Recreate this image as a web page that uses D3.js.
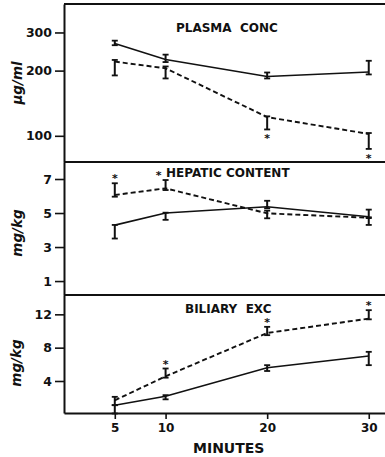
<!DOCTYPE html>
<html>
<head>
<meta charset="utf-8">
<script src="https://cdn.jsdelivr.net/npm/d3@7"></script>
<style>
  html, body { margin: 0; padding: 0; background: #fff; }
  svg { display: block; }
  text { fill: #111; font-family: "DejaVu Sans", sans-serif; }
</style>
</head>
<body>
<svg id="chart" width="385" height="457"></svg>
<script>
// time points (minutes)
const minutes = [5, 10, 20, 30];

// plasma conc, ug/ml  (solid = control, dashed = treated)
const plasmaSolid = [267, 225, 188, 197];
const plasmaSolidLo = [262, 219, 184, 192];
const plasmaSolidHi = [275, 237, 196, 222];
const plasmaDashed = [220, 205, 122, 102];
const plasmaDashedLo = [190, 184, 107, 87];
const plasmaDashedHi = [224, 209, 123, 103];
const plasmaStar = [0, 0, 1, 1];

// hepatic content, mg/kg
const hepSolid = [4.29, 5.0, 5.37, 4.78];
const hepSolidLo = [3.5, 4.6, 5.28, 4.3];
const hepSolidHi = [4.3, 5.02, 5.72, 5.2];
const hepDashed = [6.06, 6.45, 4.98, 4.72];
const hepDashedLo = [5.96, 6.35, 4.69, 4.7];
const hepDashedHi = [6.75, 6.94, 5.14, 4.75];
const hepStar = [1, 1, 0, 0];

// biliary excretion, mg/kg
const bilSolid = [1.08, 2.16, 5.6, 7.0];
const bilSolidLo = [0.1, 1.8, 5.2, 5.9];
const bilSolidHi = [1.1, 2.3, 5.9, 7.5];
const bilDashed = [1.68, 4.56, 9.76, 11.49];
const bilDashedLo = [1.1, 4.4, 9.5, 11.4];
const bilDashedHi = [2.1, 5.5, 10.5, 12.5];
const bilStar = [0, 1, 1, 1];

const plasmaTicks = [100, 200, 300];
const hepTicks = [1, 3, 5, 7];
const bilTicks = [4, 8, 12];

const svg = d3.select("#chart");
const ink = "#111";

const x = d3.scaleLinear().domain([0, 31.6]).range([64, 385]);

const panels = [
  {
    title: "PLASMA\u00a0\u00a0CONC", tx: 176, ty: 32,
    unit: "\u03bcg/ml", ux: 17, uy: 83,
    y: d3.scaleLog().domain([75.7, 406]).range([162, 4]),
    ticks: plasmaTicks,
    series: [
      { v: plasmaSolid, lo: plasmaSolidLo, hi: plasmaSolidHi, dash: null },
      { v: plasmaDashed, lo: plasmaDashedLo, hi: plasmaDashedHi, dash: "5,3", star: plasmaStar, below: true }
    ]
  },
  {
    title: "HEPATIC CONTENT", tx: 166, ty: 177,
    unit: "mg/kg", ux: 17, uy: 233,
    y: d3.scaleLinear().domain([0.18, 8.0]).range([295, 162]),
    ticks: hepTicks,
    series: [
      { v: hepSolid, lo: hepSolidLo, hi: hepSolidHi, dash: null },
      // star at 10 min sits left of its bar, next to the title
      { v: hepDashed, lo: hepDashedLo, hi: hepDashedHi, dash: "5,3", star: hepStar, starDx: [0, -7, 0, 0] }
    ]
  },
  {
    title: "BILIARY\u00a0\u00a0EXC", tx: 185, ty: 313,
    unit: "mg/kg", ux: 16, uy: 363,
    y: d3.scaleLinear().domain([0.16, 14.32]).range([413, 295]),
    ticks: bilTicks,
    series: [
      { v: bilSolid, lo: bilSolidLo, hi: bilSolidHi, dash: null },
      { v: bilDashed, lo: bilDashedLo, hi: bilDashedHi, dash: "5,3", star: bilStar }
    ]
  }
];

// frame lines (top and separators)
[4, 162, 295].forEach(yy => {
  svg.append("line")
    .attr("x1", 64).attr("x2", 385)
    .attr("y1", yy).attr("y2", yy)
    .attr("stroke", ink).attr("stroke-width", 2);
});

panels.forEach(p => {
  const yAxis = d3.axisLeft(p.y)
    .tickValues(p.ticks)
    .tickFormat(d3.format("d"))
    .tickSize(9)
    .tickSizeOuter(0)
    .tickPadding(3);

  const g = svg.append("g")
    .attr("transform", "translate(64,0)")
    .call(yAxis);
  g.select(".domain").attr("stroke", ink).attr("stroke-width", 2);
  g.selectAll(".tick line").attr("stroke", ink).attr("stroke-width", 1.6);
  g.selectAll(".tick text")
    .attr("fill", ink)
    .style("font-family", "DejaVu Sans, sans-serif")
    .style("font-weight", "bold")
    .style("font-size", "12.5px");

  svg.append("text")
    .attr("x", p.tx).attr("y", p.ty)
    .style("font-weight", "bold")
    .style("font-size", "12px")
    .text(p.title);

  svg.append("text")
    .attr("transform", `translate(${p.ux},${p.uy}) rotate(-90)`)
    .attr("text-anchor", "middle")
    .attr("dominant-baseline", "central")
    .style("font-weight", "bold")
    .style("font-style", "italic")
    .style("font-size", "13.5px")
    .text(p.unit);

  p.series.forEach(s => {
    const pts = minutes.map((m, i) => ({
      m, v: s.v[i], lo: s.lo[i], hi: s.hi[i],
      star: s.star ? s.star[i] : 0,
      dx: s.starDx ? s.starDx[i] : 0
    }));
    const line = d3.line().x(d => x(d.m)).y(d => p.y(d.v));

    svg.append("path")
      .datum(pts)
      .attr("d", line)
      .attr("fill", "none")
      .attr("stroke", ink)
      .attr("stroke-width", s.dash ? 1.9 : 1.6)
      .attr("stroke-dasharray", s.dash);

    const eb = svg.append("g").selectAll("g").data(pts).join("g");
    eb.append("line")
      .attr("x1", d => x(d.m)).attr("x2", d => x(d.m))
      .attr("y1", d => p.y(d.lo)).attr("y2", d => p.y(d.hi))
      .attr("stroke", ink).attr("stroke-width", 2);
    eb.append("line")
      .attr("x1", d => x(d.m) - 3).attr("x2", d => x(d.m) + 3)
      .attr("y1", d => p.y(d.lo)).attr("y2", d => p.y(d.lo))
      .attr("stroke", ink).attr("stroke-width", 1.8);
    eb.append("line")
      .attr("x1", d => x(d.m) - 3).attr("x2", d => x(d.m) + 3)
      .attr("y1", d => p.y(d.hi)).attr("y2", d => p.y(d.hi))
      .attr("stroke", ink).attr("stroke-width", 1.8);

    svg.append("g").selectAll("text")
      .data(pts.filter(d => d.star))
      .join("text")
      .attr("x", d => x(d.m) + d.dx)
      .attr("y", d => s.below ? p.y(d.lo) + 13 : p.y(d.hi) - 1)
      .attr("text-anchor", "middle")
      .style("font-weight", "bold")
      .style("font-size", "11px")
      .text("*");
  });
});

// bottom axis
const xAxis = d3.axisBottom(x)
  .tickValues(minutes)
  .tickFormat(d3.format("d"))
  .tickSize(6)
  .tickSizeOuter(0)
  .tickPadding(4);
const gx = svg.append("g")
  .attr("transform", "translate(0,413)")
  .call(xAxis);
gx.select(".domain").attr("stroke", ink).attr("stroke-width", 2);
gx.selectAll(".tick line").attr("stroke", ink).attr("stroke-width", 1.6);
gx.selectAll(".tick text")
  .attr("fill", ink)
  .style("font-family", "DejaVu Sans, sans-serif")
  .style("font-weight", "bold")
  .style("font-size", "12px");

svg.append("text")
  .attr("x", 193).attr("y", 453)
  .style("font-weight", "bold")
  .style("font-size", "14px")
  .text("MINUTES");
</script>
</body>
</html>
